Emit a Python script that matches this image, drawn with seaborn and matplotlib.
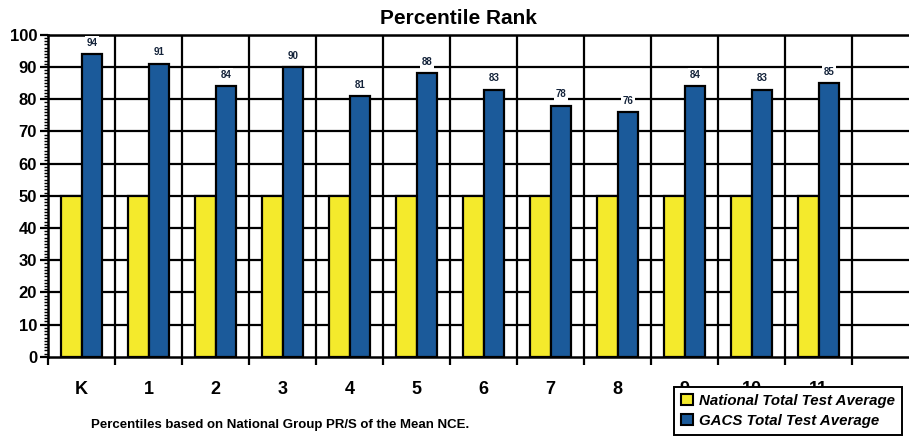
import pandas as pd
import numpy as np
import matplotlib.pyplot as plt
import seaborn as sns
from matplotlib.patches import Patch
from matplotlib.ticker import MultipleLocator

# Chart data
grades = ['K', '1', '2', '3', '4', '5', '6', '7', '8', '9', '10', '11']
national = [50, 50, 50, 50, 50, 50, 50, 50, 50, 50, 50, 50]
gacs = [94, 91, 84, 90, 81, 88, 83, 78, 76, 84, 83, 85]
series_names = ['National Total Test Average', 'GACS Total Test Average']
colors = ['#f4ea2c', '#1b5a9a']

df = pd.DataFrame({
    'Grade': grades * 2,
    'Value': national + gacs,
    'Series': [series_names[0]] * len(grades) + [series_names[1]] * len(grades),
})

sns.set_style('white')
plt.rcParams['font.family'] = ['Liberation Sans', 'DejaVu Sans']
plt.rcParams['text.color'] = 'black'

fig = plt.figure(figsize=(9.09, 4.4), dpi=100)
ax = fig.add_axes([0.053, 0.189, 0.947, 0.732])

sns.barplot(ax=ax, data=df, x='Grade', y='Value', hue='Series', order=grades,
            hue_order=series_names, palette=colors, width=0.62, saturation=1,
            edgecolor='black', linewidth=1.6, legend=False, zorder=3)

ax.set_xlim(-0.5, 12.35)
ax.set_ylim(0, 100)
ax.yaxis.set_major_locator(MultipleLocator(10))
ax.yaxis.set_minor_locator(MultipleLocator(1))
ax.set_xlabel('')
ax.set_ylabel('')

# grid: horizontal every 10, vertical at category boundaries
for yv in range(10, 101, 10):
    ax.axhline(yv, color='black', lw=1.6, zorder=1)
bounds = np.arange(-0.5, 12.6, 1)
for xv in bounds[1:]:
    ax.axvline(xv, color='black', lw=1.6, zorder=1)

ax.set_xticks(bounds[:13], minor=True)
ax.tick_params(axis='x', which='major', bottom=False, pad=14, labelsize=13, labelcolor='black')
ax.tick_params(axis='x', which='minor', bottom=True, length=6, width=1.6, direction='out', color='black')
ax.tick_params(axis='y', which='major', left=True, length=6, width=1.6, direction='out',
               labelsize=12, pad=2, color='black', labelcolor='black')
ax.tick_params(axis='y', which='minor', left=True, length=3, width=1.0, direction='out', color='black')
for lab in ax.get_xticklabels() + ax.get_yticklabels():
    lab.set_fontweight('bold')

for side in ['left', 'bottom', 'top']:
    ax.spines[side].set_color('black')
    ax.spines[side].set_linewidth(1.8)
ax.spines['right'].set_visible(False)

# value labels on GACS bars
gacs_bars = ax.containers[1]
for bar, val in zip(gacs_bars, gacs):
    ax.text(bar.get_x() + bar.get_width() / 2, val + 3.5, str(val), ha='center', va='center',
            fontsize=7, fontweight='bold', color='#14233a', zorder=5,
            bbox=dict(facecolor='white', edgecolor='none', pad=1.2))

fig.text(0.504, 0.958, 'Percentile Rank', ha='center', va='center', fontsize=15,
         fontweight='bold', color='black')
fig.text(0.1, 0.034, 'Percentiles based on National Group PR/S of the Mean NCE.',
         ha='left', va='center', fontsize=9.5, fontweight='bold', color='black')

# legend box sits over the last tick labels, as in the original
handles = [Patch(facecolor=c, edgecolor='black', linewidth=1.5) for c in colors]
leg = fig.legend(handles, series_names, loc='lower right', bbox_to_anchor=(1.0, -0.005),
                 frameon=True, fancybox=False, edgecolor='black', fontsize=10.8,
                 handlelength=0.8, handleheight=0.8, handletextpad=0.4,
                 borderpad=0.45, labelspacing=0.4, framealpha=1)
leg.get_frame().set_linewidth(1.4)
for t in leg.get_texts():
    t.set_fontweight('bold')
    t.set_fontstyle('italic')
    t.set_color('black')

fig.savefig('out.png', dpi=100)
